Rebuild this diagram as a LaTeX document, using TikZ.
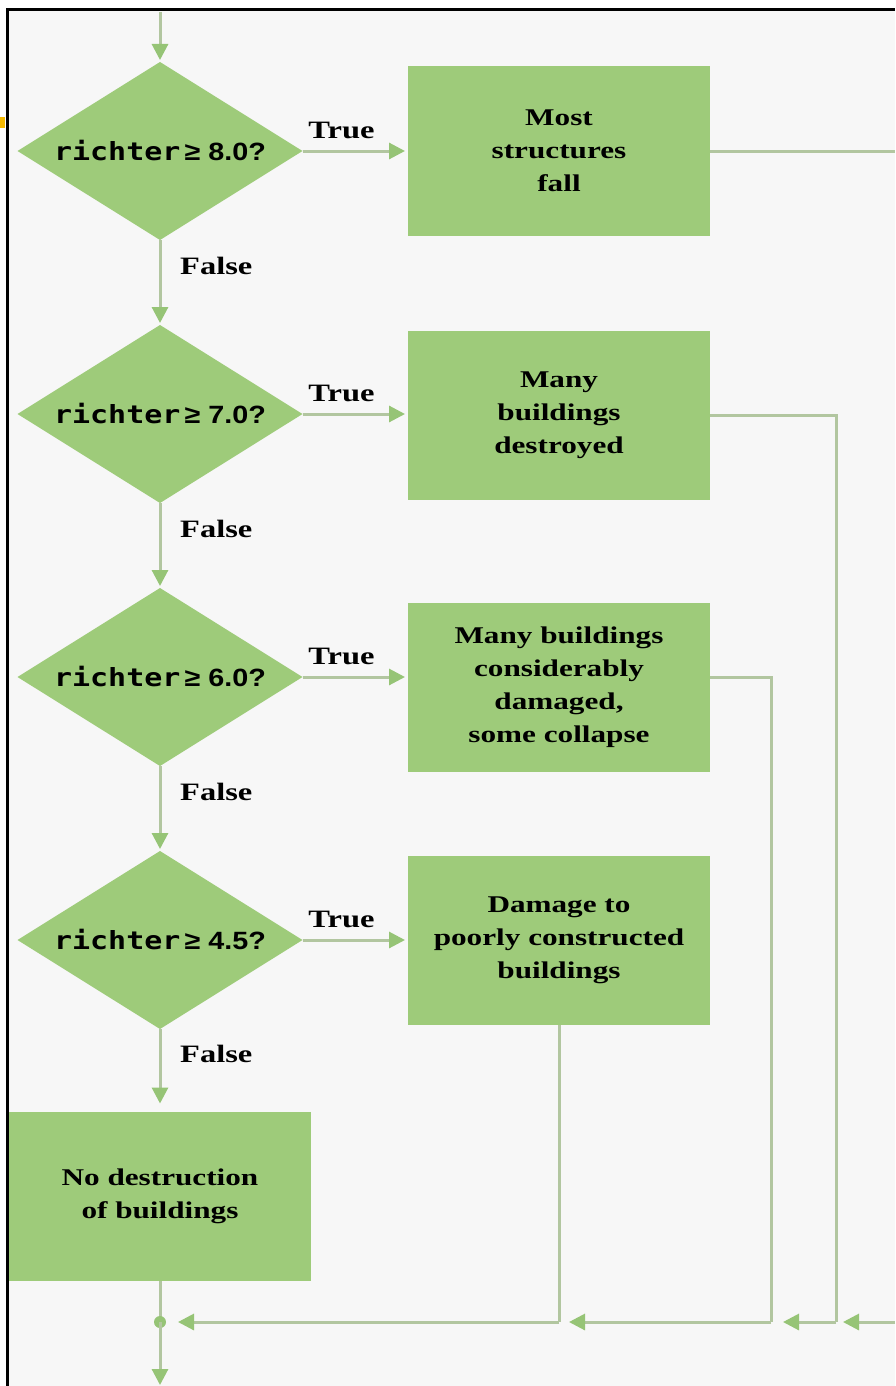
\documentclass[tikz,border=0pt]{standalone}
\usepackage{fontspec}
\setmainfont{Liberation Serif}[FakeStretch=1.3]
\newfontfamily\codefont{DejaVu Sans Mono}[FakeStretch=1.2]
\newfontfamily\signfont{Liberation Sans}[FakeStretch=1.15]
\usetikzlibrary{shapes.geometric,arrows.meta}
\definecolor{boxgreen}{RGB}{158,203,122}
\definecolor{linegreen}{RGB}{178,198,160}
\definecolor{tipgreen}{RGB}{150,196,118}
\definecolor{paper}{RGB}{247,247,247}
\definecolor{markorange}{RGB}{245,185,0}

\begin{document}
\begin{tikzpicture}[x=0.5pt, y=-0.5pt,
  >={Triangle[length=8pt,width=8pt,color=tipgreen]},
  flow/.style={draw=linegreen, line width=1.5pt},
  decision/.style={diamond, fill=boxgreen, inner sep=0pt, outer sep=0pt, aspect=1.6,
    minimum width=142.5pt, minimum height=89pt, font=\bfseries\fontsize{12.5}{15}\selectfont},
  action/.style={rectangle, fill=boxgreen, inner sep=0pt, outer sep=0pt, align=center,
    minimum width=151pt, minimum height=84.5pt, font=\bfseries\fontsize{12}{16.5}\selectfont},
  lbl/.style={font=\bfseries\fontsize{12.5}{15}\selectfont}]
\useasboundingbox (0,0) rectangle (895,1386);
\fill[white] (0,0) rectangle (895,1386);
\fill[paper] (7.5,9.5) rectangle (895,1386);
\draw[line width=1.5pt] (7.5,1386) -- (7.5,9.5) -- (895,9.5);
\fill[markorange] (0,117) rectangle (5,128);

\foreach \i/\val in {1/8.0,2/7.0,3/6.0,4/4.5}
  \node[decision] (d\i) at (160,{151+263*(\i-1)}) {{\codefont richter}{\signfont\,\mbox{≥}\hspace{4pt}\val?}};
\node[action] (b1) at (559,151) {Most\\structures\\fall};
\node[action] (b2) at (559,415) {Many\\buildings\\destroyed};
\node[action] (b3) at (559,687) {Many buildings\\considerably\\damaged,\\some collapse};
\node[action] (b4) at (559,940) {Damage to\\poorly constructed\\buildings};
\node[action] (b5) at (160,1196) {No destruction\\of buildings};

\coordinate (top) at (160,12);
\coordinate (j1) at (895,1322);
\coordinate (j2) at (836,1322);
\coordinate (j3) at (771,1322);
\coordinate (j4) at (559,1322);
\coordinate (jd) at (160,1322);
\coordinate (bot) at (160,1385);

\draw[flow,->,shorten >=1pt] (top) -- (d1.north);
\foreach \i in {1,2,3,4}
  \draw[flow,->,shorten >=1.5pt] (d\i.east) -- node[lbl,above,pos=0.37,yshift=2pt] {True} (b\i.west |- d\i.east);
\foreach \i/\n/\s in {1/d2/1pt,2/d3/1pt,3/d4/1pt,4/b5/4pt}
  \draw[flow,->,shorten >=\s] (d\i.south) -- node[lbl,right,pos=0.3,xshift=6pt] {False} (\n.north);

\draw[flow] (b1.east) -- (b1.east -| j1);
\draw[flow] (b2.east) -| (j2);
\draw[flow] (b3.east |- d3.east) -| (j3);
\draw[flow] (b4.south) -- (j4);
\foreach \a/\b/\s in {j1/j2/3.5pt,j2/j3/6pt,j3/j4/5pt,j4/jd/9pt}
  \draw[flow,->,shorten >=\s] (\a) -- (\b);
\draw[flow] (b5.south) -- (jd);
\fill[tipgreen] (jd) circle[radius=3pt];
\draw[flow,->] (jd) -- (bot);
\end{tikzpicture}
\end{document}
